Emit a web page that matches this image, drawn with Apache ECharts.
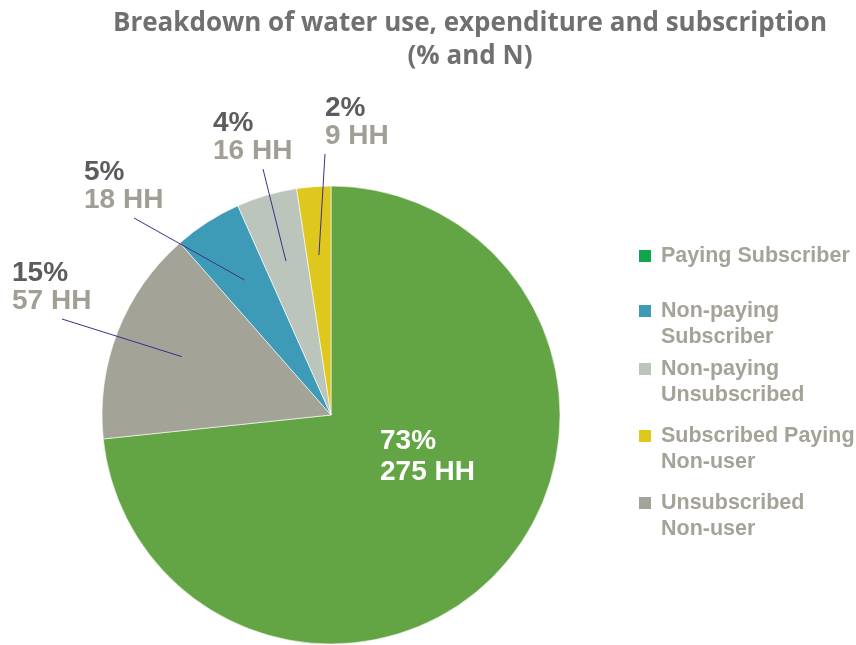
<!DOCTYPE html>
<html>
<head>
<meta charset="utf-8">
<script src="https://cdn.jsdelivr.net/npm/echarts@6/dist/echarts.min.js"></script>
<style>
    html, body { margin: 0; padding: 0; background: #fff; }
    #chartPie { width: 856px; height: 645px; }
</style>
</head>
<body>
<div id="chartPie"></div>
<script>
    // data, in pie order (clockwise from 12 o'clock)
    var categories = ['Paying Subscriber', 'Unsubscribed Non-user', 'Non-paying Subscriber', 'Non-paying Unsubscribed', 'Subscribed Paying Non-user'];
    var households = [275, 57, 18, 16, 9];
    var sliceColors = ['#63a545', '#a3a497', '#3e9bb8', '#bcc5bb', '#dfc81e'];

    // legend order and wrapped names
    var legendOrder = ['Paying Subscriber', 'Non-paying Subscriber', 'Non-paying Unsubscribed', 'Subscribed Paying Non-user', 'Unsubscribed Non-user'];
    var legendNames = {
        'Paying Subscriber': 'Paying Subscriber',
        'Non-paying Subscriber': 'Non-paying\nSubscriber',
        'Non-paying Unsubscribed': 'Non-paying\nUnsubscribed',
        'Subscribed Paying Non-user': 'Subscribed Paying\nNon-user',
        'Unsubscribed Non-user': 'Unsubscribed\nNon-user'
    };

    // layout
    var CX = 331, CY = 415, R = 229;
    var labelSpots = [[380, 457], [12, 287], [84, 186], [213, 137], [325, 122]];  // left x, middle y
    var legendIconY = [256, 311, 369, 436, 503];
    var LEGEND_LINE = 26;

    var total = households.reduce(function (a, b) { return a + b; }, 0);

    function midAngle(i) {
        var before = 0;
        for (var j = 0; j < i; j++) before += households[j];
        return (before + households[i] / 2) / total * 2 * Math.PI;
    }

    // leader lines: from under each outside label into its slice
    var leaders = [];
    for (var i = 1; i < households.length; i++) {
        var a = midAngle(i);
        var ix = CX + 0.7 * R * Math.sin(a);
        var iy = CY - 0.7 * R * Math.cos(a);
        var sx = Math.min(labelSpots[i][0] + 50, Math.max(labelSpots[i][0], ix));
        var sy = labelSpots[i][1] + 32;
        leaders.push({
            type: 'polyline',
            z: 100,
            silent: true,
            shape: { points: [[sx, sy], [ix, iy]] },
            style: { stroke: '#3d2d8c', lineWidth: 1, fill: null }
        });
    }

    // one legend per entry, so the square sits next to the first line of a wrapped name
    var legends = legendOrder.map(function (name, k) {
        var lines = legendNames[name].split('\n');
        var text = lines.length > 1 ? '\n' + lines.join('\n') : lines[0];
        var nLines = lines.length > 1 ? lines.length + 1 : 1;
        var item = { name: name };
        if (k === 0) item.itemStyle = { color: '#10a650' };
        return {
            orient: 'vertical',
            left: 637,
            top: legendIconY[k] - nLines * LEGEND_LINE / 2,
            padding: 0,
            itemWidth: 14,
            itemHeight: 14,
            icon: 'rect',
            formatter: function () { return text; },
            textStyle: {
                fontFamily: 'Liberation Sans',
                fontSize: 21.5,
                fontWeight: 'bold',
                color: '#a5a398',
                lineHeight: LEGEND_LINE,
                padding: [0, 0, 0, 4]
            },
            data: [item]
        };
    });

    var chartPie = echarts.init(document.getElementById('chartPie'));
    chartPie.setOption({
        title: {
            text: 'Breakdown of water use, expenditure and subscription\n(% and N)',
            left: 470,
            textAlign: 'center',
            top: 7,
            padding: 0,
            textStyle: {
                fontFamily: 'Open Sans',
                fontSize: 26,
                fontWeight: 'bold',
                color: '#707070',
                lineHeight: 33
            }
        },
        legend: legends,
        graphic: leaders,
        series: [{
            name: 'Households',
            type: 'pie',
            center: [CX, CY],
            radius: R,
            startAngle: 90,
            clockwise: true,
            avoidLabelOverlap: false,
            animation: false,
            itemStyle: { borderColor: '#ffffff', borderWidth: 0.6 },
            label: {
                show: true,
                position: 'outside',
                fontFamily: 'Liberation Sans',
                formatter: function (p) {
                    var tag = p.dataIndex === 0 ? 'w' : 'p';
                    var tag2 = p.dataIndex === 0 ? 'w' : 'h';
                    return '{' + tag + '|' + Math.round(p.percent) + '%}\n{' + tag2 + '|' + p.value + ' HH}';
                },
                rich: {
                    p: { fontFamily: 'Liberation Sans', fontSize: 28, fontWeight: 'bold', color: '#5c5c5c', lineHeight: 28 },
                    h: { fontFamily: 'Liberation Sans', fontSize: 28, fontWeight: 'bold', color: '#a19f94', lineHeight: 28 },
                    w: { fontFamily: 'Liberation Sans', fontSize: 28, fontWeight: 'bold', color: '#ffffff', lineHeight: 31 }
                }
            },
            labelLine: { show: false },
            labelLayout: function (params) {
                var spot = labelSpots[params.dataIndex];
                return { x: spot[0], y: spot[1], align: 'left', verticalAlign: 'middle' };
            },
            data: categories.map(function (name, i) {
                var d = { name: name, value: households[i], itemStyle: { color: sliceColors[i] } };
                if (i === 0) d.label = { position: 'inside' };
                return d;
            })
        }]
    });
</script>
</body>
</html>
